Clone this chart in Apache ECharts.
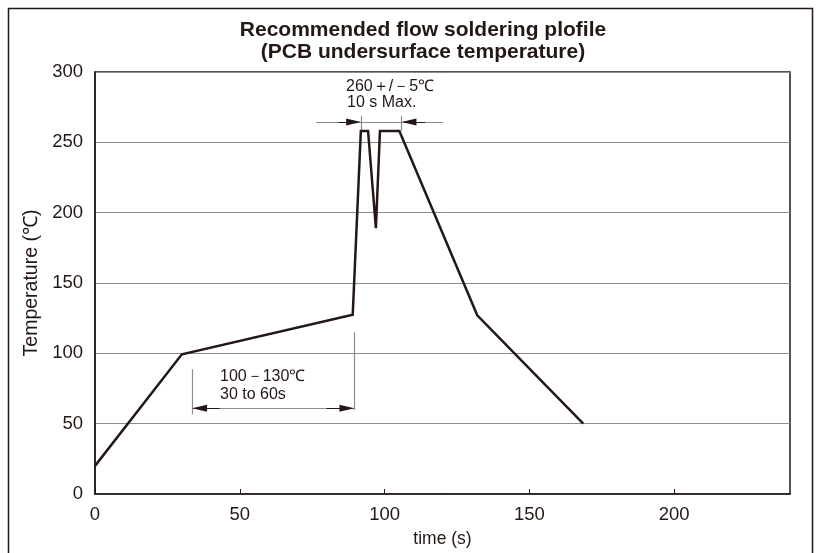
<!DOCTYPE html>
<html>
<head>
<meta charset="utf-8">
<script src="https://cdn.jsdelivr.net/npm/echarts@6/dist/echarts.min.js"></script>
<style>html,body{margin:0;padding:0;background:#fff;}#c{width:816px;height:553px;}</style>
</head>
<body>
<div id="c"></div>
<script>
// Profile data (time s, temperature °C)
var profileTime = [0, 30, 89, 91.8, 94.3, 97, 98.4, 105.1, 132, 168.6];
var profileTemp = [20, 99.3, 127.5, 258, 258, 189, 258, 258, 127, 50];

// Axis ticks
var xTicks = [0, 50, 100, 150, 200];
var yTicks = [0, 50, 100, 150, 200, 250, 300];

// Annotation guide lines (gray): [x1, y1, x2, y2]
var guideLines = [
  [33.7, 56.7, 33.7, 88.7],
  [89.4, 59.5, 89.4, 115],
  [33.7, 61, 89.4, 61],
  [76.3, 264.5, 91.8, 264.5],
  [91.8, 264.5, 105.9, 264.5],
  [105.9, 264.5, 120.2, 264.5],
  [91.8, 258, 91.8, 268.8],
  [105.9, 258, 105.9, 268.8]
];
// Arrow heads (black): [fromX, fromY, tipCenterX, tipCenterY]
var arrowHeads = [
  [80, 61, 87.0, 61],
  [43, 61, 36.1, 61],
  [84, 264.5, 89.3, 264.5],
  [114, 264.5, 108.4, 264.5]
];
// Annotation texts
var noteTop = ['260＋/－5℃', '10 s Max.'];
var noteBottom = ['100－130℃', '30 to 60s'];
var titleLines = ['Recommended flow soldering plofile', '(PCB undersurface temperature)'];

var FONT = '"Liberation Sans", Arial, Helvetica, sans-serif';
var DARK = '#231815';
var GRAY = '#8c8c8c';

var chart = echarts.init(document.getElementById('c'));
var lineData = profileTime.map(function (t, i) { return [t, profileTemp[i]]; });

chart.setOption({
  animation: false,
  backgroundColor: '#fff',
  textStyle: { fontFamily: FONT },
  grid: { left: 95, right: 26, top: 72, bottom: 58, show: true, borderColor: DARK, borderWidth: 1.5, backgroundColor: 'transparent' },
  xAxis: {
    type: 'value', min: 0, max: 240, interval: 50,
    name: 'time (s)', nameLocation: 'middle', nameGap: 36,
    nameTextStyle: { fontSize: 17.5, color: DARK, fontFamily: FONT },
    axisLine: { show: true, lineStyle: { color: DARK, width: 1.5 } },
    axisTick: { show: true, inside: true, length: 5, lineStyle: { color: DARK, width: 1 } },
    axisLabel: { fontSize: 18.5, color: DARK, fontFamily: FONT, margin: 11, showMaxLabel: false,
      formatter: function (v) { return xTicks.indexOf(v) >= 0 ? String(v) : ''; } },
    splitLine: { show: false }
  },
  yAxis: {
    type: 'value', min: 0, max: 300, interval: 50,
    name: 'Temperature (℃)', nameLocation: 'middle', nameGap: 46, nameRotate: 90,
    nameTextStyle: { fontSize: 19.5, color: DARK, fontFamily: FONT },
    axisLine: { show: true, lineStyle: { color: DARK, width: 1.5 } },
    axisTick: { show: false },
    axisLabel: { fontSize: 18.5, color: DARK, fontFamily: FONT, margin: 12,
      formatter: function (v) { return yTicks.indexOf(v) >= 0 ? String(v) : ''; } },
    splitLine: { show: true, lineStyle: { color: GRAY, width: 1 } }
  },
  graphic: [
    { type: 'rect', shape: { x: 8.5, y: 8.5, width: 804, height: 600 }, style: { fill: 'none', stroke: DARK, lineWidth: 1.5 }, z: 0, silent: true },
    { type: 'text', x: 423, y: 30, style: { text: titleLines[0], font: 'bold 21px ' + FONT, fill: DARK, textAlign: 'center', textVerticalAlign: 'middle' }, z: 10 },
    { type: 'text', x: 423, y: 52, style: { text: titleLines[1], font: 'bold 21px ' + FONT, fill: DARK, textAlign: 'center', textVerticalAlign: 'middle' }, z: 10 },
    { type: 'text', x: 346, y: 87, style: { text: noteTop[0], font: '16px ' + FONT, fill: DARK, textVerticalAlign: 'middle' }, z: 10 },
    { type: 'text', x: 347, y: 103, style: { text: noteTop[1], font: '16px ' + FONT, fill: DARK, textVerticalAlign: 'middle' }, z: 10 },
    { type: 'text', x: 220, y: 377, style: { text: noteBottom[0], font: '16px ' + FONT, fill: DARK, textVerticalAlign: 'middle' }, z: 10 },
    { type: 'text', x: 220, y: 395, style: { text: noteBottom[1], font: '16px ' + FONT, fill: DARK, textVerticalAlign: 'middle' }, z: 10 }
  ],
  series: [
    {
      type: 'line', data: lineData, symbol: 'none',
      lineStyle: { color: DARK, width: 2.5, join: 'miter' }, z: 5
    },
    {
      type: 'line', data: [], symbol: 'none',
      markLine: {
        silent: true, symbol: 'none', animation: false,
        label: { show: false },
        lineStyle: { color: GRAY, width: 1.2, type: 'solid' },
        data: guideLines.map(function (g) { return [{ coord: [g[0], g[1]] }, { coord: [g[2], g[3]] }]; })
      },
      z: 3
    },
    {
      type: 'line', data: [], symbol: 'none',
      markLine: {
        silent: true, symbol: ['none', 'triangle'], symbolSize: [7, 15], animation: false,
        label: { show: false },
        lineStyle: { color: DARK, width: 1, type: 'solid' },
        data: arrowHeads.map(function (a) { return [{ coord: [a[0], a[1]] }, { coord: [a[2], a[3]] }]; })
      },
      z: 4
    }
  ]
});
</script>
</body>
</html>
